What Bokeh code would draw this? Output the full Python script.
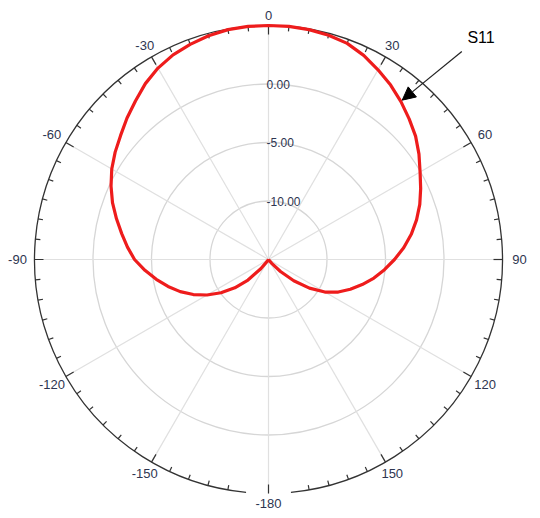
import math
from bokeh.plotting import figure
from bokeh.models import Range1d, Arrow, NormalHead
from bokeh.core.properties import value
from bokeh.embed import file_html
from bokeh.resources import INLINE

# ---- data ----
angles_deg = list(range(-180, 185, 5))
s11_db = [-25, -25, -25, -25, -25, -25, -20, -14.83, -13.97, -12.52, -11.24, -10.04,
          -8.93, -7.91, -6.97, -6.11, -5.26, -4.40, -3.55, -2.90, -2.26, -1.55, -0.81,
          -0.15, 0.47, 1.00, 1.50, 2.10, 2.69, 3.35, 3.89, 4.30, 4.57, 4.80, 4.95, 5.00,
          5.00, 5.00, 4.95, 4.85, 4.66, 4.25, 3.72, 3.20, 2.61, 2.00, 1.41, 0.70, -0.04,
          -0.65, -1.24, -1.90, -2.61, -3.40, -4.23, -5.05, -5.85, -6.71, -7.56, -8.42,
          -9.44, -10.73, -12.18, -13.55, -14.57, -15.5, -20, -25, -25, -25, -25, -25, -25]
ring_db = [-10.0, -5.0, 0.0]
ring_labels = ["-10.00", "-5.00", "0.00"]
spoke_angles = [0, 30, 60, 90, 120, 150, 180, 210, 240, 270, 300, 330]
angle_labels = ["0", "30", "60", "90", "120", "150", "-180", "-150", "-120", "-90", "-60", "-30"]
series_name = "S11"

# ---- polar scale ----
R_MIN_DB, R_MAX_DB = -15.0, 5.0
R_OUT = 234.0


def rad(db):
    return max(db - R_MIN_DB, 0.0) / (R_MAX_DB - R_MIN_DB) * R_OUT


def xy(theta_deg, r):
    t = math.radians(theta_deg)
    return r * math.sin(t), r * math.cos(t)


p = figure(width=540, height=518, output_backend="svg", toolbar_location=None,
           x_range=Range1d(-268, 272), y_range=Range1d(-259, 259),
           min_border=0, match_aspect=False)
p.axis.visible = False
p.grid.visible = False
p.outline_line_color = None
p.background_fill_color = "white"
p.border_fill_color = "white"

# rings
for db in ring_db:
    p.circle(x=0, y=0, radius=rad(db), fill_color=None, line_color="#D6D6D6", line_width=1.3)

# spokes
sx, sy = [], []
for a in spoke_angles:
    x1, y1 = xy(a, R_OUT)
    sx.append([0, x1]); sy.append([0, y1])
p.multi_line(xs=sx, ys=sy, line_color="#E0E0E0", line_width=1.2)

# outer circle with gap at bottom
p.arc(x=0, y=0, radius=R_OUT, start_angle=math.radians(-84.5), end_angle=math.radians(264.5),
      direction="anticlock", line_color="#333333", line_width=1.3)

# ticks every 5 deg
tx, ty = [], []
for a in range(0, 360, 5):
    if a in (175, 185):
        continue
    L = 9 if a % 30 == 0 else 5
    x0, y0 = xy(a, R_OUT)
    x1, y1 = xy(a, R_OUT - L)
    tx.append([x0, x1]); ty.append([y0, y1])
p.multi_line(xs=tx, ys=ty, line_color="#333333", line_width=1.2)

# angle labels
lx, ly = [], []
for a in spoke_angles:
    r = 244 + 7 * abs(math.sin(math.radians(a)))
    x, y = xy(a, r)
    lx.append(x); ly.append(y)
p.text(x=lx, y=ly, text=angle_labels, text_align="center", text_baseline="middle",
       text_font=value("Liberation Sans"), text_font_size="13px", text_color="#2E3550")

# ring labels
p.text(x=[-2] * 3, y=[rad(d) for d in ring_db], text=ring_labels, text_align="left",
       text_baseline="middle", text_font=value("Liberation Sans"), text_font_size="12px",
       text_color="#2E3550")

# curve
cx, cy = [], []
for a, d in zip(angles_deg, s11_db):
    x, y = xy(a, rad(d))
    cx.append(x); cy.append(y)
p.line(cx, cy, line_color="#EE1C1C", line_width=3.2, line_join="round")

# annotation
tip_x, tip_y = xy(40, rad(s11_db[angles_deg.index(40)]) + 2)
st_x, st_y = xy(42.9, 284)
p.add_layout(Arrow(end=NormalHead(size=13, fill_color="black", line_color="black"),
                   x_start=st_x, y_start=st_y, x_end=tip_x, y_end=tip_y,
                   line_color="#222222", line_width=1.2))
lab_x, lab_y = xy(43.5, 303)
p.text(x=[lab_x + 4], y=[lab_y + 2], text=[series_name], text_align="center", text_baseline="middle",
       text_font=value("Liberation Sans"), text_font_size="16px", text_color="black")

open("out.html", "w").write(file_html(p, INLINE))
